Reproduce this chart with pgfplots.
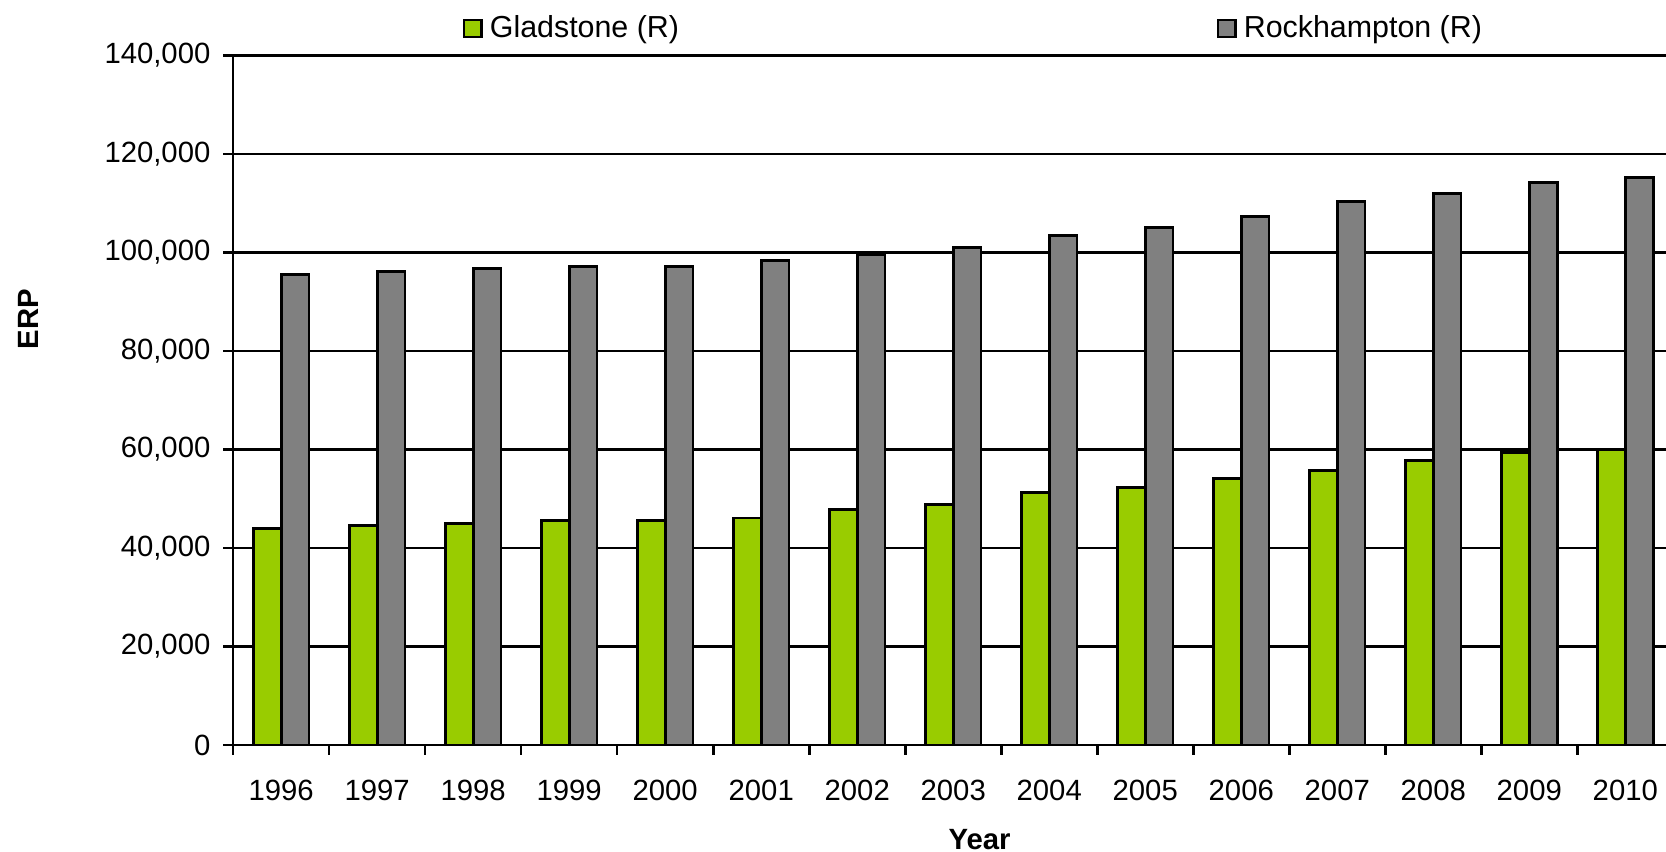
\documentclass[border=0pt]{standalone}
\usepackage{pgfplots}
\usepackage{pgfplotstable}
\pgfplotsset{compat=1.18}
\usepackage{fontspec}
\setmainfont{Liberation Sans}

\definecolor{gladgreen}{HTML}{99CC00}
\definecolor{rockgrey}{HTML}{808080}

% estimated resident population
\pgfplotstableread{
x year glad rock
0 1996 43900 95600
1 1997 44500 96100
2 1998 45000 96700
3 1999 45600 97200
4 2000 45600 97200
5 2001 46100 98400
6 2002 47800 99500
7 2003 48900 101000
8 2004 51200 103400
9 2005 52300 105100
10 2006 54100 107300
11 2007 55800 110300
12 2008 57800 112000
13 2009 59400 114200
14 2010 60000 115300
}\erp

\pgfplotsset{
  boxleg/.style={legend image code/.code={
    \draw[##1,draw=black,line width=0.6pt] (-1pt,-2.35pt) rectangle (3.7pt,2.35pt);}},
}

\begin{document}
\begin{tikzpicture}
\begin{axis}[
  scale only axis,
  width=391.4pt, height=188.3pt,
  xmin=-0.5, xmax=14.424,
  ymin=0, ymax=140000,
  ybar=0pt, bar width=0.29,
  axis x line*=bottom, axis y line*=left,
  axis line style={black, line width=0.7pt},
  tick align=outside,
  major tick length=2.7pt,
  tick style={black, line width=0.7pt},
  xtick={-0.5,0.5,...,13.5},
  xticklabels={},
  extra x ticks={0,1,...,14},
  extra x tick labels={1996,1997,1998,1999,2000,2001,2002,2003,2004,2005,2006,2007,2008,2009,2010},
  extra x tick style={major tick length=0pt},
  ytick={0,20000,...,140000},
  scaled y ticks=false,
  yticklabel style={/pgf/number format/.cd, fixed, 1000 sep={,}, assume math mode=true},
  tick label style={font=\fontsize{8}{9.6}\selectfont},
  xticklabel style={yshift=-6pt},
  ymajorgrids,
  grid style={black, line width=0.65pt},
  xlabel={Year}, ylabel={ERP},
  label style={font=\fontsize{8}{9.6}\selectfont\bfseries},
  xlabel style={at={(axis description cs:0.521,-0.137)}, anchor=center},
  ylabel style={at={(axis description cs:-0.1426,0.618)}, anchor=center},
  legend columns=2,
  legend style={draw=none, fill=none, inner sep=0pt,
    at={(axis description cs:0.160,1.039)}, anchor=west,
    font=\fontsize{8.3}{10}\selectfont,
    /tikz/every even column/.append style={column sep=145pt}},
]
\addplot[fill=gladgreen, draw=black, line width=0.75pt, boxleg] table[x=x, y=glad] {\erp};
\addlegendentry{Gladstone (R)}
\addplot[fill=rockgrey, draw=black, line width=0.75pt, boxleg] table[x=x, y=rock] {\erp};
\addlegendentry{Rockhampton (R)}
\end{axis}
\pgfresetboundingbox
\path[use as bounding box] (-63.7pt,-29.2pt) rectangle (391.4pt,203.5pt);
\end{tikzpicture}
\end{document}
